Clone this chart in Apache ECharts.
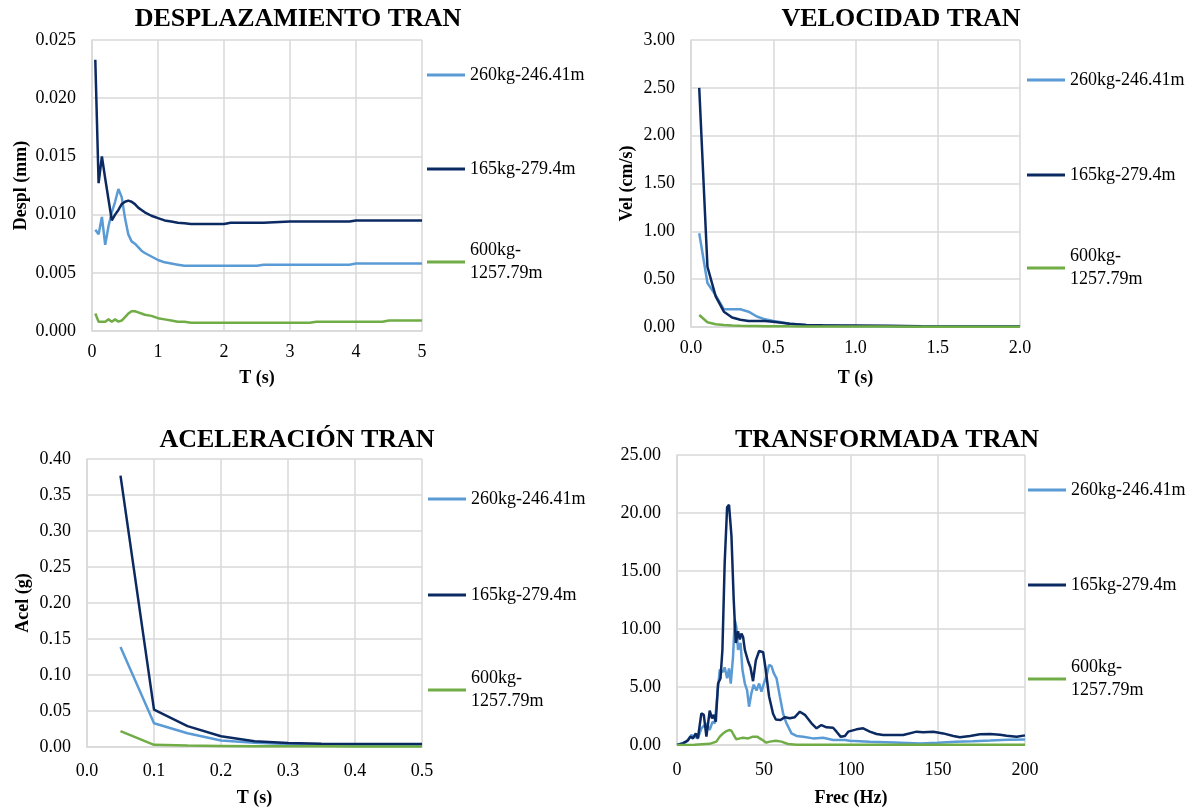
<!DOCTYPE html>
<html>
<head>
<meta charset="utf-8">
<script src="https://cdn.jsdelivr.net/npm/echarts@6/dist/echarts.min.js"></script>
<style>
  html, body { margin: 0; padding: 0; background: #ffffff; }
  #chart { width: 1198px; height: 812px; }
</style>
</head>
<body>
<div id="chart"></div>
<script>
// Series labels (mass - distance) and their colours
const seriesNames = ['260kg-246.41m', '165kg-279.4m', '600kg-1257.79m'];
const seriesColors = ['#5B9BD5', '#0C2A62', '#70AD47'];

// ---- Displacement spectrum (mm) vs period T (s)
const periodDespl = [0.05, 0.1, 0.15, 0.2, 0.25, 0.3, 0.35, 0.4, 0.45, 0.5, 0.55, 0.6, 0.65, 0.7, 0.75, 0.8, 0.9, 1.0, 1.1, 1.2, 1.3, 1.4, 1.5, 2.0, 2.1, 2.5, 2.6, 3.0, 3.3, 3.4, 3.9, 4.0, 4.4, 4.5, 5.0];
const despl260 = [0.0087, 0.0083, 0.0098, 0.0074, 0.0090, 0.0102, 0.0111, 0.0122, 0.0115, 0.0097, 0.0083, 0.0077, 0.0075, 0.0072, 0.0069, 0.0067, 0.0064, 0.0061, 0.0059, 0.0058, 0.0057, 0.0056, 0.0056, 0.0056, 0.0056, 0.0056, 0.0057, 0.0057, 0.0057, 0.0057, 0.0057, 0.0058, 0.0058, 0.0058, 0.0058];
const despl165 = [0.0233, 0.0127, 0.0150, 0.0131, 0.0113, 0.0095, 0.0100, 0.0104, 0.0109, 0.0111, 0.0112, 0.0111, 0.0109, 0.0106, 0.0104, 0.0102, 0.0099, 0.0097, 0.0095, 0.0094, 0.0093, 0.00925, 0.0092, 0.0092, 0.0093, 0.0093, 0.0093, 0.0094, 0.0094, 0.0094, 0.0094, 0.0095, 0.0095, 0.0095, 0.0095];
const despl600 = [0.0015, 0.0008, 0.0008, 0.0008, 0.0010, 0.0008, 0.0010, 0.0008, 0.0009, 0.0012, 0.0015, 0.0017, 0.0017, 0.0016, 0.0015, 0.0014, 0.0013, 0.0011, 0.0010, 0.0009, 0.0008, 0.0008, 0.0007, 0.0007, 0.0007, 0.0007, 0.0007, 0.0007, 0.0007, 0.0008, 0.0008, 0.0008, 0.0008, 0.0009, 0.0009];

// ---- Velocity spectrum (cm/s) vs period T (s)
const periodVel = [0.05, 0.1, 0.15, 0.2, 0.25, 0.3, 0.35, 0.4, 0.45, 0.5, 0.55, 0.6, 0.7, 0.8, 0.9, 1.0, 1.2, 1.4, 1.6, 1.8, 2.0];
const vel260 = [0.98, 0.46, 0.33, 0.185, 0.185, 0.185, 0.16, 0.11, 0.08, 0.063, 0.05, 0.035, 0.022, 0.018, 0.012, 0.010, 0.008, 0.006, 0.005, 0.004, 0.004];
const vel165 = [2.50, 0.63, 0.32, 0.16, 0.10, 0.075, 0.063, 0.063, 0.063, 0.055, 0.045, 0.035, 0.022, 0.018, 0.015, 0.015, 0.013, 0.008, 0.006, 0.005, 0.004];
const vel600 = [0.125, 0.05, 0.028, 0.02, 0.015, 0.012, 0.010, 0.010, 0.009, 0.008, 0.008, 0.007, 0.006, 0.005, 0.005, 0.004, 0.004, 0.003, 0.003, 0.003, 0.003];

// ---- Acceleration spectrum (g) vs period T (s)
const periodAcel = [0.05, 0.1, 0.15, 0.2, 0.25, 0.3, 0.35, 0.4, 0.45, 0.5];
const acel260 = [0.139, 0.033, 0.019, 0.009, 0.006, 0.004, 0.003, 0.003, 0.002, 0.002];
const acel165 = [0.377, 0.052, 0.029, 0.015, 0.008, 0.0055, 0.0045, 0.004, 0.004, 0.004];
const acel600 = [0.022, 0.003, 0.002, 0.0015, 0.001, 0.001, 0.001, 0.0008, 0.0008, 0.0008];

// ---- Fourier amplitude vs frequency, [Hz, amplitude]
const fft260 = [[0,0],[5.4,0.29],[8.3,0.86],[10.2,0.72],[12,0.57],[14,1.44],[16.9,1.87],[18.8,1.3],[20.4,2.0],[21.7,1.87],[23.6,5.0],[24.6,6.5],[25.5,6.6],[26.5,6.3],[27.4,6.7],[28.8,5.75],[29.9,6.6],[30.9,5.3],[32.2,7.6],[33.2,10.8],[34.1,10.2],[35.1,8.2],[36.5,8.8],[37.6,6.5],[39,5.3],[40.3,4.7],[41.4,3.3],[42.8,4.5],[44.1,5.2],[45.7,4.7],[47.2,5.3],[48.5,4.6],[49.9,5.3],[51.4,5.9],[52.9,6.9],[54.3,6.8],[55.6,6.2],[57.2,5.75],[59.1,4.2],[61,2.7],[62.9,1.87],[65.8,1.0],[68.7,0.78],[72.5,0.72],[78.2,0.57],[84,0.63],[89.7,0.43],[96.5,0.43],[99.3,0.37],[110.8,0.29],[125,0.22],[139.6,0.14],[150,0.2],[160,0.28],[170,0.32],[180,0.38],[190,0.45],[200,0.47]];
const fft165 = [[0,0],[3.5,0.14],[6.3,0.4],[7.7,0.72],[9.2,0.57],[10.8,1.0],[12,0.57],[14,2.73],[15.4,2.6],[16.9,0.72],[18.8,2.96],[20.1,2.3],[21.1,2.6],[22.3,2.0],[23.6,5.3],[25,5.75],[26.1,8.2],[27.4,15.7],[28.8,20.5],[29.9,20.7],[31.3,18.0],[32.6,12.5],[33.8,8.8],[35.1,9.8],[36.1,9.1],[37,9.6],[38,9.3],[39,8.2],[40.9,7.2],[42.2,6.7],[43.7,5.5],[45.3,7.3],[47.2,8.1],[49.5,8.0],[50.8,6.7],[52.9,4.2],[55.2,2.7],[56.8,2.2],[59.5,2.15],[62,2.4],[64.8,2.3],[67.7,2.4],[70.6,2.87],[73.5,2.6],[77.3,1.87],[80.2,1.44],[83,1.72],[85.9,1.52],[89.7,1.49],[91.7,1.15],[94,0.72],[96.5,0.78],[98.4,1.15],[99.3,1.29],[103.2,1.35],[107,1.44],[110.8,1.15],[114.7,0.95],[118.5,0.86],[126,0.86],[130,0.86],[137.7,1.15],[141.5,1.09],[147.3,1.15],[153,1.0],[158.8,0.78],[162.6,0.66],[168.4,0.78],[174.1,0.92],[179.9,0.95],[185.6,0.89],[189.5,0.8],[195.2,0.72],[200,0.83]];
const fft600 = [[0,0],[10,0.02],[18.8,0.1],[22.6,0.29],[24.6,0.72],[26.5,1.0],[28.4,1.2],[29.9,1.29],[31.3,1.23],[32.6,0.86],[34.1,0.49],[36.1,0.57],[38,0.63],[40.9,0.57],[43.7,0.72],[46,0.72],[48.5,0.49],[51.4,0.2],[53.3,0.29],[56.8,0.37],[60,0.29],[63.8,0.09],[68.7,0.02],[100,0.02],[150,0.02],[200,0.02]];

// Panel titles and axis captions
const panelTitles = ['DESPLAZAMIENTO TRAN', 'VELOCIDAD TRAN', 'ACELERACIÓN TRAN', 'TRANSFORMADA TRAN'];
const xAxisNames = ['T (s)', 'T (s)', 'T (s)', 'Frec (Hz)'];
const yAxisNames = ['Despl (mm)', 'Vel (cm/s)', 'Acel (g)', ''];

const SERIF = "'Liberation Serif', 'Times New Roman', serif";
const GRID_COLOR = '#d9d9d9';

const pairs = (xs, ys) => xs.map((x, i) => [x, ys[i]]);

// Plot rectangles
const grids = [
  { left: 92, top: 40, width: 330, height: 291 },
  { left: 691, top: 40, width: 329, height: 287 },
  { left: 87, top: 459, width: 335, height: 288 },
  { left: 677, top: 455, width: 348, height: 290 }
];

const xScales = [
  { min: 0, max: 5, interval: 1, digits: 0 },
  { min: 0, max: 2, interval: 0.5, digits: 1 },
  { min: 0, max: 0.5, interval: 0.1, digits: 1 },
  { min: 0, max: 200, interval: 50, digits: 0 }
];
const yScales = [
  { min: 0, max: 0.025, interval: 0.005, digits: 3 },
  { min: 0, max: 3, interval: 0.5, digits: 2 },
  { min: 0, max: 0.4, interval: 0.05, digits: 2 },
  { min: 0, max: 25, interval: 5, digits: 2 }
];
const xLabelMargins = [12, 12, 15, 16];
const xNameGaps = [38, 42, 42, 44];
const yNameGaps = [62, 55, 55, 0];

const panelData = [
  [pairs(periodDespl, despl260), pairs(periodDespl, despl165), pairs(periodDespl, despl600)],
  [pairs(periodVel, vel260), pairs(periodVel, vel165), pairs(periodVel, vel600)],
  [pairs(periodAcel, acel260), pairs(periodAcel, acel165), pairs(periodAcel, acel600)],
  [fft260, fft165, fft600]
];

const axisLineStyle = { color: GRID_COLOR, width: 1.5 };

const xAxes = xScales.map((s, i) => ({
  type: 'value', gridIndex: i, min: s.min, max: s.max, interval: s.interval,
  name: xAxisNames[i], nameLocation: 'middle', nameGap: xNameGaps[i],
  nameTextStyle: { fontFamily: SERIF, fontWeight: 'bold', fontSize: 18, color: '#000' },
  axisLine: { show: true, lineStyle: axisLineStyle },
  axisTick: { show: false },
  splitLine: { show: true, lineStyle: axisLineStyle },
  axisLabel: { fontFamily: SERIF, fontSize: 18, color: '#000', margin: xLabelMargins[i],
    formatter: v => v.toFixed(s.digits) }
}));

const yAxes = yScales.map((s, i) => ({
  type: 'value', gridIndex: i, min: s.min, max: s.max, interval: s.interval,
  name: yAxisNames[i], nameLocation: 'middle', nameGap: yNameGaps[i], nameRotate: 90,
  nameTextStyle: { fontFamily: SERIF, fontWeight: 'bold', fontSize: 18, color: '#000' },
  axisLine: { show: true, lineStyle: axisLineStyle },
  axisTick: { show: false },
  splitLine: { show: true, lineStyle: axisLineStyle },
  axisLabel: { fontFamily: SERIF, fontSize: 18, color: '#000', margin: 16,
    formatter: v => v.toFixed(s.digits) }
}));

const series = [];
panelData.forEach((set, p) => {
  set.forEach((data, k) => {
    series.push({
      type: 'line', name: seriesNames[k], xAxisIndex: p, yAxisIndex: p,
      data: data, showSymbol: false, symbol: 'none', smooth: false,
      lineStyle: { color: seriesColors[k], width: 2.5 },
      itemStyle: { color: seriesColors[k] }
    });
  });
});

// Titles centred over each half of the page
const titleCenters = [[298, 6], [901, 6], [297, 427], [887, 427]];
const titles = panelTitles.map((t, i) => ({
  text: t, left: titleCenters[i][0], top: titleCenters[i][1], textAlign: 'center', padding: 0,
  textStyle: { fontFamily: SERIF, fontWeight: 'bold', fontSize: 26, color: '#000' }
}));

// One legend entry per item, stacked at the right of each panel
const LINE_H = 23;
const legendSpots = [
  { left: 427, centers: [75, 169, 262] },
  { left: 1027, centers: [80, 175, 268] },
  { left: 428, centers: [499, 595, 690] },
  { left: 1028, centers: [490, 585, 679] }
];
const legends = [];
legendSpots.forEach(spot => {
  seriesNames.forEach((name, k) => {
    const wrapped = k === 2;
    legends.push({
      orient: 'vertical', left: spot.left,
      top: wrapped ? spot.centers[k] - 1.5 * LINE_H : spot.centers[k] - LINE_H / 2,
      padding: 0, itemGap: 0, itemWidth: 38, itemHeight: 3, icon: 'rect',
      selectedMode: false,
      data: [wrapped ? { name: name, textStyle: { padding: [LINE_H, 0, 0, 0] } } : name],
      formatter: n => (n === '600kg-1257.79m' ? '600kg-\n1257.79m' : n),
      textStyle: { fontFamily: SERIF, fontSize: 18, lineHeight: LINE_H, color: '#000' }
    });
  });
});

const chart = echarts.init(document.getElementById('chart'), null, { renderer: 'canvas' });
chart.setOption({
  animation: false,
  backgroundColor: '#ffffff',
  title: titles,
  legend: legends,
  grid: grids,
  xAxis: xAxes,
  yAxis: yAxes,
  series: series
});
</script>
</body>
</html>
